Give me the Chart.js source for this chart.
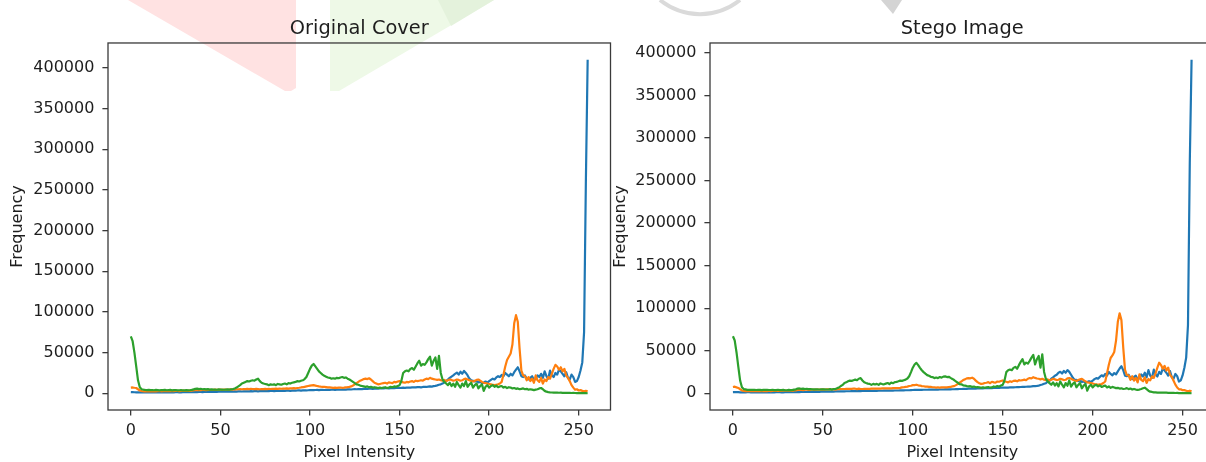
<!DOCTYPE html>
<html>
<head>
<meta charset="utf-8">
<script src="https://cdn.jsdelivr.net/npm/chart.js@4.4.0/dist/chart.umd.min.js"></script>
<style>
html,body{margin:0;padding:0;background:#fff;overflow:hidden;width:1206px;height:462px;}
#bg{position:absolute;left:0;top:0;}
.wrap{position:absolute;top:0;height:462px;}
#w1{left:0;width:640px;}
#w2{left:600px;width:660px;}
canvas{display:block;}
</style>
</head>
<body>
<svg id="bg" width="1206" height="462">
  <polygon points="128,0 296,0 296,88 291,91 285,91" fill="#ffe2e2"/>
  <polygon points="330,0 494,0 339,91 330,91" fill="#eef9e7"/>
  <polygon points="438,0 494,0 451,26" fill="#e4f2dc"/>
  <path d="M660,0 A63.5,63.5 0 0 0 740,0" stroke="#dadada" stroke-width="4" fill="none"/>
  <polygon points="881,0 902,0 893,14" fill="#d4d4d4"/>
</svg>
<div class="wrap" id="w1"><canvas id="c1" width="640" height="462"></canvas></div>
<div class="wrap" id="w2"><canvas id="c2" width="660" height="462"></canvas></div>
<script>
// ---------- DATA ----------
const titles = ['Original Cover', 'Stego Image'];
const xTitle = 'Pixel Intensity';
const yTitle = 'Frequency';
const xTicks = [0, 50, 100, 150, 200, 250];
const yTicks = [0, 50000, 100000, 150000, 200000, 250000, 300000, 350000, 400000];
// pixel intensity bins 0..255
const intensity = Array.from({length: 256}, (_, i) => i);

// Original Cover histograms
const blueOriginal = [
1500,1400,1300,1200,1300,1200,1100,1200,1300,1200,
1100,1200,1300,1100,1000,1200,1100,1300,1200,1100,
1000,1200,1300,1100,1200,1400,1300,1200,1100,1300,
1400,1400,1500,1300,1400,1600,1500,1400,1600,1700,
1500,1600,1800,1700,1600,1800,1900,1700,1800,2000,
1900,2000,2100,1900,2100,2200,2000,2200,2300,2100,
2300,2400,2200,2400,2500,2300,2500,2600,2400,2600,
2700,2500,2700,2800,2600,2800,2900,2700,2900,3000,
2800,3000,3100,2900,3100,3200,3000,3200,3300,3100,
3300,3400,3200,3500,3600,3400,3600,3700,3500,3800,
4000,4100,3900,4100,4200,4000,4200,4300,4100,4300,
4400,4200,4400,4500,4300,4500,4600,4400,4600,4700,
4500,4800,4900,4700,5000,5100,5000,5200,5300,5100,
5400,5500,5300,5600,5700,5500,5800,5900,5700,6000,
6100,5900,6200,6300,6100,6400,6500,6300,6600,6700,
6500,6800,6900,6700,7000,7100,6900,7200,7400,7200,
7500,7600,7400,7800,8000,7800,8200,8500,8300,8800,
9200,9800,10500,11000,12000,13500,15000,17000,19000,20500,
22000,24000,25500,23000,26500,24000,27500,25000,22000,18000,
16000,15500,14500,15000,13500,14000,12500,13000,14500,13000,
15000,16500,18000,17000,19500,21000,20000,22500,21000,25000,
23000,21000,24000,22000,26000,29000,32000,27000,21000,20000,
22000,18000,17000,19000,21000,16000,18000,22000,20000,24000,
19000,27000,21000,18000,28000,22000,20000,25000,23000,29000,
27000,24000,21000,26000,19000,17000,23000,20000,14000,15000,
20000,28000,38000,75000,260000,410000];

const orangeOriginal = [
7000,7200,6800,6500,5000,3500,2800,2500,2600,2400,
2500,2600,2500,2700,2400,2600,2800,2500,2700,2600,
2900,2700,2800,3000,2700,2900,3100,2800,3000,3200,
2900,3100,3300,3000,3400,3600,3800,4000,4200,3900,
4100,4300,4000,4200,4400,4100,4300,4500,4200,4400,
4600,4300,4500,4700,4400,4600,4800,4500,4700,4900,
5000,5200,5000,5300,5100,5400,5200,5500,5300,5100,
5400,5200,5000,5300,5100,5400,5200,5500,5300,5600,
5400,5700,5500,5800,5600,5900,5700,6000,5800,6100,
6000,6300,6100,6500,6800,7200,7500,8000,8500,9000,
9500,9800,10000,9500,9000,8500,8200,8000,7800,7600,
7400,7200,7000,6800,7000,6700,6900,7100,6800,7000,
7300,7600,8000,8500,9500,11000,12500,14000,15500,16500,
17500,18000,17500,18500,17000,15000,13000,12000,11000,11500,
12000,12500,13000,12000,13500,13000,12500,14000,13500,14500,
15000,14000,13500,13000,14000,13500,14500,15000,14000,15500,
15000,15500,16000,15500,17000,18000,17500,19000,18000,17500,
17000,16500,17000,16000,15500,16500,15000,16000,17000,16500,
15500,16000,17000,16500,15500,16000,17500,18000,17000,16000,
15000,14500,15500,16500,17000,15500,14000,13000,12500,12000,
11500,11000,10500,10000,10500,11000,12000,14000,23000,33000,
41000,45000,49000,60000,86000,96000,88000,55000,28000,22000,
21000,16000,20000,15000,18000,13000,22000,16000,14000,19000,
12000,17000,15000,20000,18000,24000,30000,35000,33000,29000,
32000,27000,30000,22000,19000,15000,10000,7000,4500,5000,
3500,4000,3000,2500,3000,2500];

const greenOriginal = [
70000,64000,50000,33000,16000,7500,5000,4500,4200,4000,
4300,3900,4100,3800,4200,4000,3700,4100,3900,4300,
3800,4000,4200,3700,3900,4100,3600,3800,4000,3500,
3700,3900,3600,3800,4200,4800,5500,5800,5200,5600,
5000,5300,4800,5100,4600,4900,4500,4700,4400,4800,
4500,4700,4400,4600,4800,4500,4900,5200,6000,7000,
8500,10000,12000,13000,14000,15000,14500,15500,16000,15500,
17000,18000,15000,13000,12000,11500,11000,10000,11000,10500,
11000,10000,11500,11000,10500,11500,12000,11000,12500,12000,
13000,13500,14000,15000,14500,15500,16000,17500,20000,25000,
30000,34000,36000,33000,30000,27000,25000,23000,21500,20500,
19500,19000,18000,18500,18000,19000,18500,19500,20000,19000,
19500,18000,17000,15500,14000,12500,11000,10500,9500,9000,
8500,8000,8500,7500,8000,7000,7500,7000,6500,7000,
6500,7000,7500,6500,7000,8000,7500,8500,8000,9000,
10000,15000,25000,27000,28000,27000,30000,31000,29000,33000,
37000,40000,34000,36000,35000,38000,42000,45000,34000,40000,
44000,30000,46000,25000,17000,14000,12000,10000,13000,9000,
12000,8000,14000,10000,7000,12000,9000,15000,8000,11000,
13000,7000,10000,12000,6000,9000,11000,3000,8000,10000,
7000,9000,10000,8000,9500,7500,8500,9000,7000,8000,
6500,7500,7000,6000,6500,5500,6000,5000,5500,6000,
5000,5500,4500,5000,4500,4000,4500,5000,6000,6500,
5000,3000,2000,1500,1200,1000,900,800,900,700,
800,600,700,500,600,500,400,500,400,300,
400,300,200,300,200,100];

// Stego Image histograms
const blueStego = [
1400,1500,1300,1300,1200,1200,1200,1100,1300,1300,
1100,1100,1300,1200,1000,1100,1200,1300,1100,1200,
1100,1200,1200,1100,1300,1300,1300,1200,1200,1300,
1300,1500,1400,1300,1500,1600,1400,1500,1600,1600,
1600,1600,1700,1800,1600,1700,1900,1800,1800,1900,
2000,2000,2000,2000,2100,2100,2100,2200,2200,2200,
2300,2300,2300,2400,2400,2400,2500,2500,2500,2600,
2600,2600,2700,2700,2700,2800,2800,2800,2900,2900,
2900,3000,3000,3000,3100,3100,3100,3200,3200,3200,
3300,3300,3300,3400,3500,3500,3600,3600,3600,3800,
3900,4000,4000,4100,4100,4100,4200,4200,4200,4300,
4300,4300,4400,4400,4400,4500,4500,4500,4600,4600,
4600,4700,4800,4800,4900,5000,5100,5100,5200,5200,
5300,5400,5400,5500,5600,5600,5700,5800,5800,5900,
6000,6000,6100,6200,6200,6300,6400,6400,6500,6600,
6600,6700,6800,6800,6900,7000,7000,7100,7300,7300,
7400,7500,7500,7700,7900,7900,8100,8400,8400,8700,
9100,9700,10300,11200,11800,13700,14800,17200,18800,20700,
21800,24200,25300,23200,26300,24200,27300,25200,21800,18200,
15800,15700,14300,15200,13300,14200,12300,13200,14300,13200,
14800,16700,17800,17200,19300,21200,19800,22700,20800,25200,
22800,21200,23800,22200,25800,29200,31800,27200,20800,20200,
21800,18200,16800,19200,20800,16200,17800,22200,19800,24200,
18800,27200,20800,18200,27800,22200,19800,25200,22800,29200,
26800,24200,20800,26200,18800,17200,22800,20200,13800,15200,
21000,30000,42000,80000,270000,392000];

const orangeStego = [
7400,7800,7000,6300,4800,3400,2700,2600,2500,2500,
2400,2700,2400,2800,2500,2500,2900,2400,2800,2500,
3000,2600,2900,2900,2800,2800,3200,2700,3100,3100,
3000,3000,3400,2900,3500,3500,3900,3900,4300,3800,
4200,4200,4100,4100,4500,4000,4400,4400,4300,4300,
4700,4200,4600,4600,4500,4500,4900,4400,4800,4800,
5100,5100,5100,5200,5200,5300,5300,5400,5400,5000,
5500,5100,5100,5200,5200,5300,5300,5400,5400,5500,
5500,5600,5600,5700,5700,5800,5800,5900,5900,6000,
6100,6200,6200,6400,6900,7100,7600,7900,8600,8900,
9600,9700,10100,9400,9100,8400,8300,7900,7900,7500,
7500,7100,7100,6700,7100,6600,7000,7000,6900,6900,
7400,7500,8100,8400,9600,10900,12600,13900,15600,16400,
17600,17900,17600,18400,17100,14900,13100,11900,11100,11400,
12100,12400,13100,11900,13600,12900,12600,13900,13600,14400,
15100,13900,13600,12900,14100,13400,14600,14900,14100,15400,
15100,15400,16100,15400,17100,17900,17600,18900,18100,17400,
17100,16400,17100,15900,15600,16400,15100,15900,17100,16400,
15600,15900,17100,16400,15600,15900,17600,17900,17100,15900,
15100,14400,15600,16400,17100,15400,14100,12900,12600,11900,
11600,10900,10600,9900,10600,10900,12100,13900,23500,33500,
41500,44500,48500,62000,84000,94000,86000,54000,27500,21500,
21200,15800,20200,14800,18200,12800,22200,15800,14200,18800,
12200,16800,15200,19800,18200,23800,30200,36000,33200,28800,
32200,26800,30200,21800,19200,14800,10200,6800,4700,4800,
3700,3800,3100,2400,3100,2400];

const greenStego = [
67000,62000,48000,31000,15000,7200,5000,4600,4100,4100,
4200,4000,4000,3900,4100,4100,3800,4000,4000,4200,
3900,3900,4100,3800,3800,4200,3700,3700,4100,3600,
3600,4000,3700,3700,4300,4700,5600,5700,5300,5500,
5100,5200,4900,5000,4700,4800,4600,4600,4500,4700,
4600,4600,4500,4500,4900,4400,5000,5100,6100,6900,
8600,9900,12100,12900,14100,14900,14600,15400,16100,15400,
17100,17900,15100,12900,12100,11400,11100,9900,11100,10400,
11100,9900,11600,10900,10600,11400,12100,10900,12600,11900,
13100,13400,14100,14900,14600,15400,16100,17400,20100,24900,
30100,33800,35800,33100,29900,27100,24900,23100,21400,20600,
19400,19100,17900,18600,17900,19100,18400,19600,19900,19100,
19400,18100,16900,15600,13900,12600,10900,10600,9400,9100,
8400,8100,8400,7600,7900,7100,7400,7100,6400,7100,
6400,7100,7400,6600,6900,8100,7400,8600,7900,9100,
9900,15100,24900,27100,27900,27100,29900,31100,28900,33100,
36900,40100,33900,36100,34900,38100,41900,45100,33900,40100,
43900,30100,45900,25100,16900,14100,11900,10100,12900,9100,
11900,8100,13900,10100,6900,12100,8900,15100,7900,11100,
12900,7100,9900,12100,5900,9100,10900,3100,7900,10100,
6900,9100,9900,8100,9400,7600,8400,9100,6900,8100,
6400,7600,6900,6100,6400,5600,5900,5100,5400,6100,
4900,5600,4400,5100,4400,4100,4400,5100,5900,6600,
4900,3100,1900,1600,1100,1100,800,900,800,800,
700,700,600,600,500,500,400,500,300,400,
300,300,200,200,200,100];

// ---------- STYLE ----------
const FONT = "'DejaVu Sans', 'Liberation Sans', sans-serif";
const TEXT = '#1e1e1e';
const SPINE = '#3a3a3a';
const COLORS = {blue: '#1f77b4', orange: '#ff7f0e', green: '#2ca02c'};
Chart.defaults.font.family = FONT;
Chart.defaults.color = TEXT;

const framePlugin = {
  id: 'frame',
  afterDatasetsDraw(chart) {
    const {ctx, chartArea: a} = chart;
    ctx.save();
    ctx.strokeStyle = SPINE;
    ctx.lineWidth = 1.3;
    ctx.strokeRect(a.left, a.top, a.right - a.left, a.bottom - a.top);
    ctx.restore();
  }
};

function series(label, values, color, order) {
  return {
    label,
    data: intensity.map((x, i) => ({x, y: values[i]})),
    borderColor: color,
    backgroundColor: color,
    borderWidth: 2.2,
    pointRadius: 0,
    tension: 0,
    borderJoinStyle: 'round',
    fill: false,
    order
  };
}

function makeChart(id, title, blue, orange, green, geom) {
  const peak = Math.max(...blue, ...orange, ...green);
  const tickFont = {family: FONT, size: 16};
  return new Chart(document.getElementById(id), {
    type: 'line',
    data: {
      datasets: [
        series('Blue', blue, COLORS.blue, 2),
        series('Orange', orange, COLORS.orange, 1),
        series('Green', green, COLORS.green, 0)
      ]
    },
    options: {
      responsive: false,
      animation: false,
      devicePixelRatio: 1,
      layout: {padding: {left: 0, top: 0, right: geom.padRight, bottom: 0}},
      plugins: {
        legend: {display: false},
        tooltip: {enabled: false},
        title: {
          display: true, text: title, fullSize: false, color: TEXT,
          font: {family: FONT, size: 19.4, weight: 'normal'},
          padding: {top: 17.2, bottom: 2.5}
        }
      },
      scales: {
        x: {
          type: 'linear',
          min: -12.75, max: 267.75,
          afterBuildTicks: s => { s.ticks = xTicks.map(v => ({value: v})); },
          afterFit: s => { s.height = 52; },
          border: {display: false},
          grid: {display: true, drawOnChartArea: false, drawTicks: true, tickLength: 5.6,
                 tickWidth: 1.3, tickColor: SPINE, color: SPINE, lineWidth: 1.3},
          ticks: {color: TEXT, font: tickFont, padding: 6, maxRotation: 0, autoSkip: false,
                  callback: v => String(v)},
          title: {display: true, text: xTitle, color: TEXT, font: tickFont,
                  padding: {top: 0, bottom: 0}}
        },
        y: {
          type: 'linear',
          min: -0.05 * peak, max: 1.05 * peak,
          afterBuildTicks: s => { s.ticks = yTicks.map(v => ({value: v})); },
          afterFit: s => { s.width = geom.yWidth; },
          border: {display: false},
          grid: {display: true, drawOnChartArea: false, drawTicks: true, tickLength: 5.6,
                 tickWidth: 1.3, tickColor: SPINE, color: SPINE, lineWidth: 1.3},
          ticks: {color: TEXT, font: tickFont, padding: 8, autoSkip: false,
                  callback: v => String(v)},
          title: {display: true, text: yTitle, color: TEXT, font: tickFont,
                  padding: {top: geom.yTitlePad, bottom: 0}}
        }
      }
    },
    plugins: [framePlugin]
  });
}

makeChart('c1', titles[0], blueOriginal, orangeOriginal, greenOriginal,
          {padRight: 29.5, yWidth: 108, yTitlePad: 8.4});
makeChart('c2', titles[1], blueStego, orangeStego, greenStego,
          {padRight: 45.5, yWidth: 110, yTitlePad: 11.4});
</script>
</body>
</html>
